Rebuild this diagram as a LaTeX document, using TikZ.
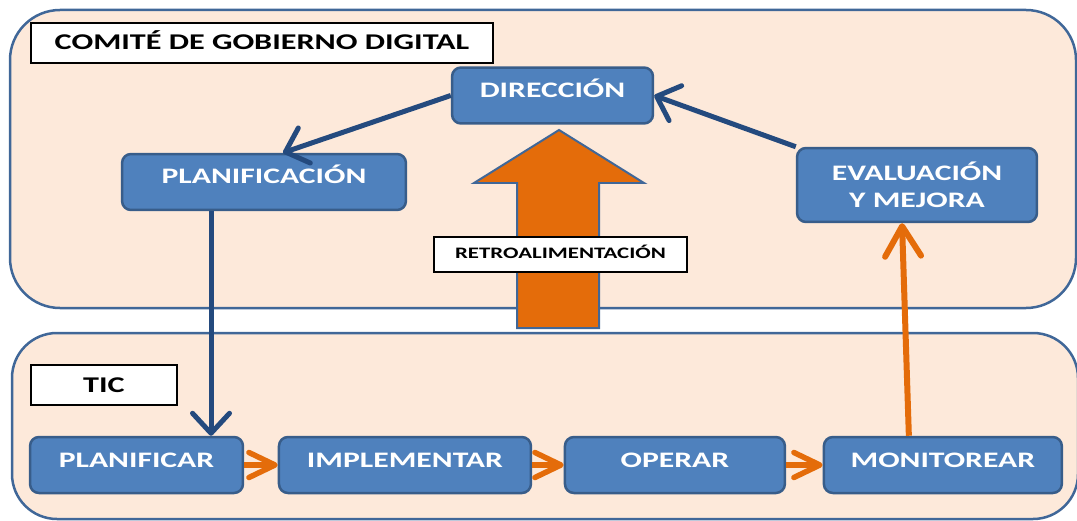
\documentclass[tikz,border=0pt]{standalone}
\usepackage{fontspec}
\setmainfont{Carlito}[FakeStretch=1.43]
\usetikzlibrary{arrows.meta, positioning}

\definecolor{fondo}{RGB}{253,233,218}
\definecolor{borde}{RGB}{64,103,152}
\definecolor{azul}{RGB}{79,129,189}
\definecolor{azulborde}{RGB}{56,93,138}
\definecolor{azuloscuro}{RGB}{36,74,126}
\definecolor{naranja}{RGB}{228,108,10}

\tikzset{
  contenedor/.style={draw=borde, fill=fondo, line width=0.05cm, rounded corners=1cm},
  caja/.style={draw=azulborde, fill=azul, line width=0.05cm, rounded corners=0.18cm, text=white,
    font=\bfseries\fontsize{12.6}{15.5}\selectfont, text height=0.3cm, text depth=0.22cm,
    inner sep=0pt, minimum height=1.12cm},
  etiqueta/.style={draw=black, fill=white, line width=0.03cm, text=black, inner sep=0pt,
    font=\bfseries\fontsize{12.8}{15.5}\selectfont, text height=0.28cm, text depth=0pt, minimum height=0.8cm},
  flechaazul/.style={draw=azuloscuro, line width=0.1cm, -{Straight Barb[length=0.4cm, width=0.74cm, round]}},
  flechanaranja/.style={draw=naranja, line width=0.11cm, -{Straight Barb[length=0.52cm, width=0.5cm, round]}},
}

\begin{document}
\begin{tikzpicture}[x=0.02cm, y=-0.02cm]
	\useasboundingbox (0,0) rectangle (1077,520);
	\clip (0,0) rectangle (1077,520);

	% Containers
	\draw [contenedor] (10,10) rectangle (1076,308);
	\draw [contenedor, rounded corners=0.9cm] (12,333) rectangle (1078,519);

	% Feedback arrow
	\draw [fill=naranja, draw=borde, line width=0.04cm] (517,328) -- (517,183) -- (474,183) -- (559,130)
		-- (644,183) -- (599,183) -- (599,328) -- cycle;

	% Labels
	\node [etiqueta, minimum width=9.24cm] (comite) at (262,43) {COMITÉ DE GOBIERNO DIGITAL};
	\node [etiqueta, minimum width=2.92cm] (tic) at (104,385) {TIC};
	\node [etiqueta, minimum width=5.06cm, minimum height=0.7cm, text height=0.2cm, text depth=0.04cm,
		font=\bfseries\fontsize{9.1}{10}\selectfont] (retro) at (560.5,254.5) {RETROALIMENTACIÓN};

	% Committee nodes
	\node [caja, minimum width=4.02cm] (direccion) at (552.5,95.5) {DIRECCIÓN};
	\node [caja, minimum width=5.68cm] (planificacion) at (264,182) {PLANIFICACIÓN};
	\node [caja, minimum width=4.8cm, minimum height=1.48cm, align=center, text height={}, text depth={}] (evaluacion) at (917,185) {EVALUACIÓN\\Y MEJORA};

	% TIC nodes
	\node [caja, minimum width=4.26cm] (planificar) at (136.5,465) {PLANIFICAR};
	\node [caja, minimum width=5.04cm, right=0.67cm of planificar] (implementar) {IMPLEMENTAR};
	\node [caja, minimum width=4.4cm, right=0.63cm of implementar] (operar) {OPERAR};
	\node [caja, minimum width=4.76cm, right=0.73cm of operar] (monitorear) {MONITOREAR};

	% Arrows
	\draw [flechaazul] (direccion.west) -- ([xshift=0.38cm]planificacion.north);
	\draw [flechaazul] (evaluacion.north west) -- (direccion.east);
	\draw [flechaazul] ([xshift=-1.06cm]planificacion.south) -- ([xshift=-1.06cm]planificacion.south |- planificar.north);
	\draw [flechanaranja] (planificar) -- (implementar);
	\draw [flechanaranja] (implementar) -- (operar);
	\draw [flechanaranja] (operar) -- (monitorear);
	\draw [flechanaranja, line width=0.12cm, -{Straight Barb[length=0.6cm, width=0.72cm, round]}]
		([xshift=-0.68cm]monitorear.north) -- ([xshift=-0.3cm]evaluacion.south);

\end{tikzpicture}
\end{document}
